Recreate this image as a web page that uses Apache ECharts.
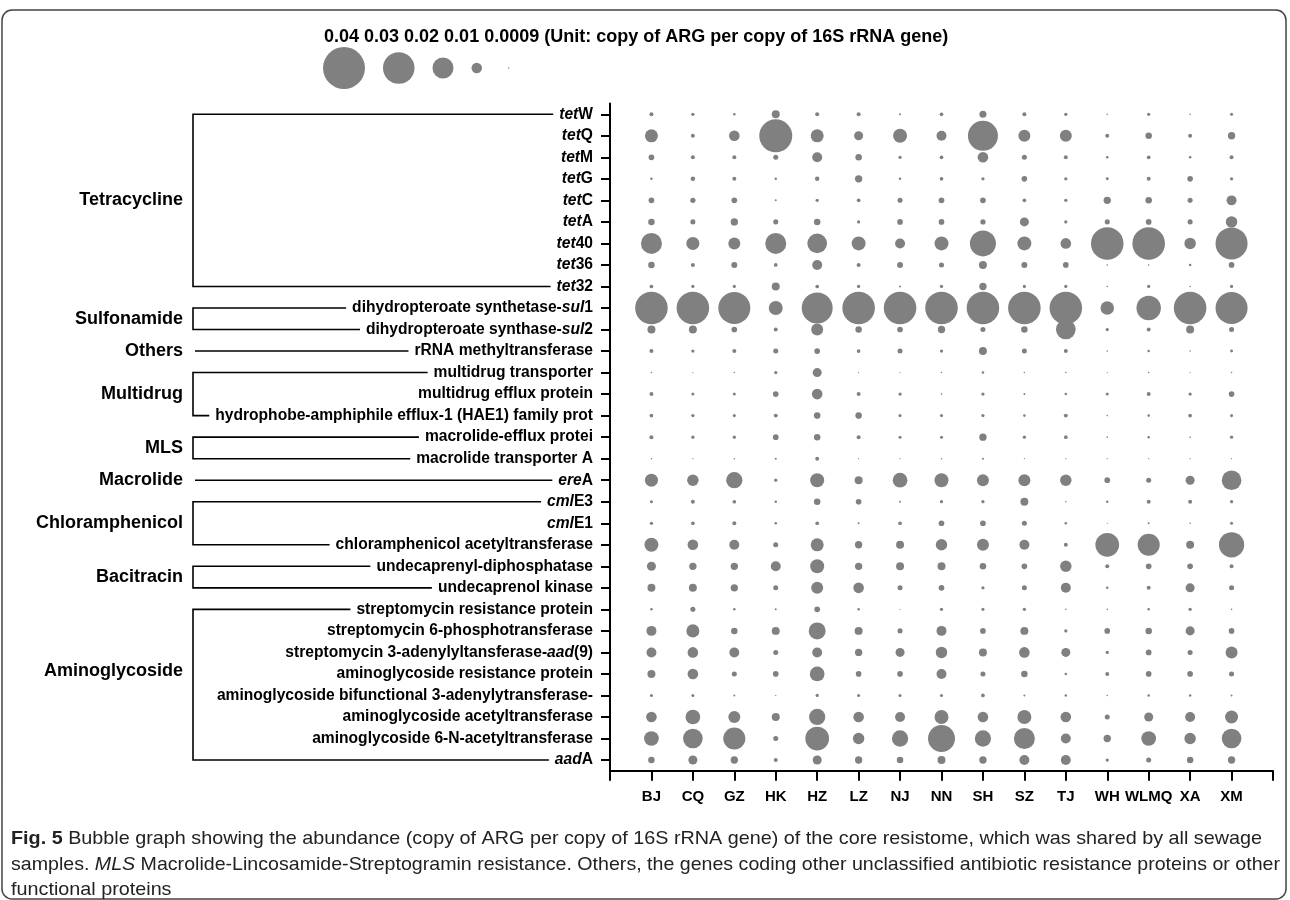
<!DOCTYPE html>
<html><head><meta charset="utf-8">
<script src="https://cdn.jsdelivr.net/npm/echarts@6/dist/echarts.min.js"></script>
<style>html,body{margin:0;padding:0;background:#fff}#c{width:1290px;height:900px}</style>
</head><body><div id="c"></div>
<script>
// ---------- data ----------
const cities = ['BJ','CQ','GZ','HK','HZ','LZ','NJ','NN','SH','SZ','TJ','WH','WLMQ','XA','XM'];
const genes = [
  '{i|tet}W','{i|tet}Q','{i|tet}M','{i|tet}G','{i|tet}C','{i|tet}A','{i|tet}40','{i|tet}36','{i|tet}32',
  'dihydropteroate synthetase-{i|sul}1','dihydropteroate synthase-{i|sul}2',
  'rRNA methyltransferase',
  'multidrug transporter','multidrug efflux protein','hydrophobe-amphiphile efflux-1 (HAE1) family prot',
  'macrolide-efflux protei','macrolide transporter A',
  '{i|ere}A',
  '{i|cml}E3','{i|cml}E1','chloramphenicol acetyltransferase',
  'undecaprenyl-diphosphatase','undecaprenol kinase',
  'streptomycin resistance protein','streptomycin 6-phosphotransferase','streptomycin 3-adenylyltansferase-{i|aad}(9)',
  'aminoglycoside resistance protein','aminoglycoside bifunctional 3-adenylytransferase-',
  'aminoglycoside acetyltransferase','aminoglycoside 6-N-acetyltransferase','{i|aad}A'
];
// groups: name, first gene index, last gene index, label row position
const groupNames  = ['Tetracycline','Sulfonamide','Others','Multidrug','MLS','Macrolide','Chloramphenicol','Bacitracin','Aminoglycoside'];
const groupFirst  = [0, 9, 11, 12, 15, 17, 18, 21, 23];
const groupLast   = [8, 10, 11, 14, 16, 17, 20, 22, 30];
const groupLabelAt= [4, 9.5, 11, 13, 15.5, 17, 19, 21.5, 25.85];

const legendValues = [0.04, 0.03, 0.02, 0.01, 0.0009];
const unitText = '(Unit: copy of ARG per copy of 16S rRNA gene)';

// abundance (copy of ARG per copy of 16S rRNA gene), order of cities
const tetW   = [0.0038,0.0031,0.0024,0.0076,0.0038,0.0038,0.0019,0.0035,0.0067,0.0038,0.0031,0.0015,0.0031,0.0015,0.0029];
const tetQ   = [0.0124,0.0038,0.0101,0.0314,0.0124,0.0086,0.0133,0.0095,0.0286,0.0114,0.0114,0.0038,0.0062,0.0038,0.0070];
const tetM   = [0.0054,0.0038,0.0038,0.0048,0.0095,0.0062,0.0031,0.0035,0.0101,0.0048,0.0038,0.0024,0.0035,0.0024,0.0038];
const tetG   = [0.0024,0.0043,0.0038,0.0024,0.0043,0.0070,0.0024,0.0035,0.0031,0.0054,0.0031,0.0028,0.0038,0.0054,0.0031];
const tetC   = [0.0054,0.0050,0.0054,0.0019,0.0031,0.0035,0.0048,0.0054,0.0054,0.0035,0.0031,0.0070,0.0062,0.0048,0.0095];
const tetA   = [0.0062,0.0048,0.0070,0.0048,0.0062,0.0031,0.0054,0.0054,0.0050,0.0086,0.0031,0.0048,0.0054,0.0048,0.0109];
const tet40  = [0.0200,0.0124,0.0114,0.0200,0.0187,0.0133,0.0095,0.0133,0.0248,0.0133,0.0101,0.0310,0.0310,0.0109,0.0305];
const tet36  = [0.0062,0.0038,0.0057,0.0035,0.0095,0.0038,0.0057,0.0048,0.0076,0.0057,0.0054,0.0015,0.0015,0.0024,0.0054];
const tet32  = [0.0035,0.0031,0.0031,0.0076,0.0035,0.0031,0.0019,0.0031,0.0070,0.0031,0.0031,0.0015,0.0031,0.0015,0.0031];
const sul1   = [0.0310,0.0310,0.0305,0.0133,0.0295,0.0310,0.0310,0.0310,0.0310,0.0310,0.0310,0.0129,0.0233,0.0310,0.0305];
const sul2   = [0.0076,0.0076,0.0054,0.0038,0.0114,0.0062,0.0054,0.0070,0.0048,0.0062,0.0187,0.0031,0.0038,0.0076,0.0048];
const rrnaMethyl = [0.0038,0.0031,0.0038,0.0048,0.0054,0.0035,0.0048,0.0031,0.0076,0.0048,0.0038,0.0015,0.0024,0.0015,0.0028];
const mdrTransporter = [0.0015,0.0011,0.0015,0.0031,0.0086,0.0011,0.0011,0.0015,0.0024,0.0015,0.0015,0.0011,0.0015,0.0011,0.0015];
const mdrEfflux  = [0.0038,0.0029,0.0029,0.0054,0.0101,0.0038,0.0031,0.0015,0.0031,0.0019,0.0024,0.0029,0.0038,0.0031,0.0054];
const hae1       = [0.0035,0.0031,0.0029,0.0038,0.0062,0.0062,0.0029,0.0029,0.0031,0.0024,0.0038,0.0015,0.0024,0.0035,0.0029];
const macEfflux  = [0.0038,0.0031,0.0031,0.0054,0.0062,0.0038,0.0029,0.0029,0.0070,0.0031,0.0035,0.0015,0.0024,0.0015,0.0031];
const macTransA  = [0.0015,0.0011,0.0015,0.0019,0.0038,0.0011,0.0011,0.0015,0.0019,0.0011,0.0011,0.0011,0.0011,0.0011,0.0011];
const ereA   = [0.0124,0.0109,0.0155,0.0031,0.0133,0.0076,0.0140,0.0133,0.0114,0.0114,0.0109,0.0054,0.0048,0.0086,0.0187];
const cmlE3  = [0.0029,0.0038,0.0035,0.0024,0.0062,0.0054,0.0019,0.0031,0.0031,0.0076,0.0015,0.0024,0.0038,0.0038,0.0031];
const cmlE1  = [0.0031,0.0035,0.0038,0.0024,0.0035,0.0019,0.0035,0.0054,0.0054,0.0048,0.0024,0.0011,0.0019,0.0015,0.0029];
const chlAcetyl  = [0.0133,0.0101,0.0095,0.0048,0.0124,0.0070,0.0076,0.0109,0.0114,0.0095,0.0038,0.0226,0.0210,0.0076,0.0241];
const undecDiphos = [0.0086,0.0070,0.0070,0.0095,0.0133,0.0070,0.0076,0.0076,0.0062,0.0054,0.0109,0.0038,0.0054,0.0054,0.0038];
const undecKinase = [0.0076,0.0076,0.0070,0.0048,0.0114,0.0101,0.0048,0.0054,0.0031,0.0048,0.0095,0.0024,0.0038,0.0086,0.0048];
const strepResist = [0.0024,0.0048,0.0024,0.0019,0.0054,0.0024,0.0011,0.0031,0.0029,0.0031,0.0015,0.0015,0.0024,0.0031,0.0015];
const strep6Phos  = [0.0095,0.0124,0.0062,0.0076,0.0162,0.0076,0.0048,0.0095,0.0054,0.0076,0.0031,0.0054,0.0062,0.0086,0.0054];
const aad9        = [0.0095,0.0101,0.0095,0.0048,0.0095,0.0070,0.0086,0.0109,0.0076,0.0101,0.0086,0.0031,0.0054,0.0048,0.0114];
const aminoResist = [0.0076,0.0101,0.0048,0.0054,0.0140,0.0054,0.0054,0.0095,0.0048,0.0062,0.0024,0.0038,0.0054,0.0054,0.0048];
const aminoBifunc = [0.0029,0.0029,0.0019,0.0011,0.0031,0.0029,0.0029,0.0029,0.0035,0.0019,0.0024,0.0015,0.0024,0.0024,0.0019];
const aminoAcetyl = [0.0101,0.0140,0.0114,0.0076,0.0155,0.0101,0.0095,0.0133,0.0101,0.0133,0.0101,0.0048,0.0086,0.0095,0.0124];
const amino6N     = [0.0140,0.0187,0.0210,0.0048,0.0226,0.0109,0.0155,0.0257,0.0155,0.0200,0.0095,0.0070,0.0140,0.0109,0.0187];
const aadA        = [0.0062,0.0086,0.0070,0.0038,0.0086,0.0070,0.0062,0.0076,0.0070,0.0095,0.0095,0.0031,0.0048,0.0062,0.0070];

const rows = [tetW,tetQ,tetM,tetG,tetC,tetA,tet40,tet36,tet32,sul1,sul2,rrnaMethyl,mdrTransporter,mdrEfflux,hae1,
  macEfflux,macTransA,ereA,cmlE3,cmlE1,chlAcetyl,undecDiphos,undecKinase,strepResist,strep6Phos,aad9,aminoResist,
  aminoBifunc,aminoAcetyl,amino6N,aadA];

const captionLines = [
  '{b|Fig. 5} Bubble graph showing the abundance (copy of ARG per copy of 16S rRNA gene) of the core resistome, which was shared by all sewage',
  'samples. {i|MLS} Macrolide-Lincosamide-Streptogramin resistance. Others, the genes coding other unclassified antibiotic resistance proteins or other',
  'functional proteins'
];

// ---------- drawing ----------
const K = 1050;            // bubble diameter (px) per unit of abundance
const FONT = '"Liberation Sans", Arial, Helvetica, sans-serif';
const GENE_FS = 15.6, GROUP_FS = 18;
const gridLeft = 610, gridTop = 103.5, gridW = 663, gridH = 667.3;
const labelMargin = 17;
const bubble = '#808080';

const chart = echarts.init(document.getElementById('c'), null, {renderer: 'canvas'});
const pts = [];
rows.forEach((r, gi) => r.forEach((v, ci) => pts.push([ci + 1, gi, v])));

chart.setOption({
  animation: false,
  backgroundColor: '#fff',
  grid: {left: gridLeft, top: gridTop, width: gridW, height: gridH},
  xAxis: {
    type: 'value', min: 0, max: cities.length + 1, interval: 1,
    splitLine: {show: false},
    axisLine: {show: true, onZero: false, lineStyle: {color: '#000', width: 2}},
    axisTick: {show: true, length: 10, lineStyle: {color: '#000', width: 2}},
    axisLabel: {
      show: true, showMinLabel: true, showMaxLabel: true,
      formatter: v => (v >= 1 && v <= cities.length) ? cities[v - 1] : '',
      fontSize: 15, fontWeight: 'bold', color: '#000', fontFamily: FONT, margin: 19
    }
  },
  yAxis: {
    type: 'category', inverse: true, data: genes, boundaryGap: true,
    axisLine: {show: true, onZero: false, lineStyle: {color: '#000', width: 2}},
    axisTick: {show: true, alignWithLabel: true, interval: 0, length: 9, lineStyle: {color: '#000', width: 2}},
    axisLabel: {
      interval: 0, formatter: v => v, margin: labelMargin,
      fontSize: GENE_FS, fontWeight: 'bold', color: '#000', fontFamily: FONT,
      rich: {i: {fontStyle: 'italic', fontWeight: 'bold', fontSize: GENE_FS, fontFamily: FONT, color: '#000'}}
    }
  },
  series: [{
    type: 'scatter', data: pts, silent: true,
    symbolSize: d => Math.max(1.2, d[2] * K),
    itemStyle: {color: bubble, opacity: 1}
  }]
});

// text measuring for bracket line ends
const cv = document.createElement('canvas').getContext('2d');
function richWidth(str, size, family, weight) {
  let w = 0; const re = /\{(\w)\|([^}]*)\}/g; let last = 0, m;
  const seg = (t, st) => { cv.font = (st === 'i' ? 'italic ' : '') + (weight || st === 'b' ? 'bold ' : '') + size + 'px ' + family; w += cv.measureText(t).width; };
  while ((m = re.exec(str))) { seg(str.slice(last, m.index), ''); seg(m[2], m[1]); last = re.lastIndex; }
  seg(str.slice(last), '');
  return w;
}

const y0 = chart.convertToPixel({yAxisIndex: 0}, 0);
const y1 = chart.convertToPixel({yAxisIndex: 0}, 1);
const step = y1 - y0;
const rowY = i => y0 + i * step;
const labelRight = gridLeft - labelMargin;
const lineEnd = i => labelRight - richWidth(genes[i], GENE_FS, FONT, true) - 6;
const BX = 193, LW = 1.6;
const lineStyle = {stroke: '#000', lineWidth: LW};

const g = [];
// frame
g.push({type: 'rect', shape: {x: 2, y: 10, width: 1284, height: 889, r: 10}, style: {fill: 'none', stroke: '#444', lineWidth: 1.5}, silent: true});
// group labels and brackets
groupNames.forEach((name, k) => {
  const a = groupFirst[k], b = groupLast[k];
  g.push({type: 'text', x: 183, y: rowY(groupLabelAt[k]), style: {text: name, font: 'bold ' + GROUP_FS + 'px ' + FONT, fill: '#000', align: 'right', verticalAlign: 'middle'}});
  if (a === b) {
    g.push({type: 'line', shape: {x1: BX + 2, y1: rowY(a), x2: lineEnd(a), y2: rowY(a)}, style: lineStyle});
  } else {
    g.push({type: 'polyline', shape: {points: [[lineEnd(a), rowY(a)], [BX, rowY(a)], [BX, rowY(b)], [lineEnd(b), rowY(b)]]}, style: Object.assign({fill: 'none'}, lineStyle)});
  }
});
// legend
g.push({type: 'text', x: 324, y: 37, style: {text: legendValues.join(' ') + ' ' + unitText, font: 'bold 18px ' + FONT, fill: '#000', align: 'left', verticalAlign: 'middle'}});
let lx = 323;
legendValues.forEach((v, i) => {
  const d = Math.max(1.5, v * K);
  if (i === legendValues.length - 1) lx += 8;
  g.push({type: 'circle', shape: {cx: lx + d / 2, cy: 68, r: d / 2}, style: {fill: bubble}});
  lx += d + 18;
});
// caption: Arial-metric font compressed horizontally to imitate the condensed journal font
const CAP_FS = 19;
const capTargets = [1251, 1269];
const capScales = capTargets.map((tw, i) => tw / richWidth(captionLines[i], CAP_FS, FONT, false));
capScales.push(capScales[0]);
const capY = [839, 865, 890];
captionLines.forEach((t, i) => {
  g.push({type: 'text', x: 11, y: capY[i], scaleX: capScales[i], style: {
    text: t, fontSize: CAP_FS, fontFamily: FONT, fill: '#222', align: 'left', verticalAlign: 'middle',
    rich: {b: {fontWeight: 'bold', fontSize: CAP_FS, fontFamily: FONT, fill: '#222'},
           i: {fontStyle: 'italic', fontSize: CAP_FS, fontFamily: FONT, fill: '#222'}}
  }});
});
chart.setOption({graphic: {elements: g}});
</script></body></html>
